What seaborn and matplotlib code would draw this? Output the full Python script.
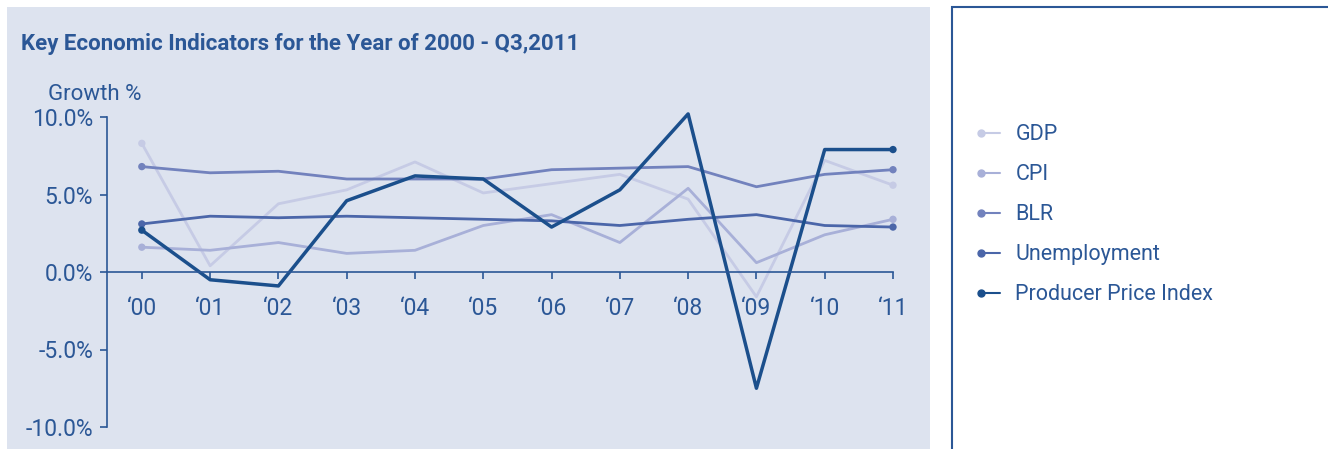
import numpy as np
import pandas as pd
import seaborn as sns
import matplotlib.pyplot as plt
from matplotlib.patches import Rectangle
from matplotlib.lines import Line2D
from matplotlib.legend_handler import HandlerLine2D

years = ["'00", "'01", "'02", "'03", "'04", "'05", "'06", "'07", "'08", "'09", "'10", "'11"]
tick_labels = ["\u201800", "\u201801", "\u201802", "\u201803", "\u201804", "\u201805",
               "\u201806", "\u201807", "\u201808", "\u201809", "\u201810", "\u201811"]

gdp = [8.3, 0.4, 4.4, 5.3, 7.1, 5.1, 5.7, 6.3, 4.7, -1.6, 7.2, 5.6]
cpi = [1.6, 1.4, 1.9, 1.2, 1.4, 3.0, 3.7, 1.9, 5.4, 0.6, 2.4, 3.4]
blr = [6.8, 6.4, 6.5, 6.0, 6.0, 6.0, 6.6, 6.7, 6.8, 5.5, 6.3, 6.6]
unemployment = [3.1, 3.6, 3.5, 3.6, 3.5, 3.4, 3.3, 3.0, 3.4, 3.7, 3.0, 2.9]
ppi = [2.7, -0.5, -0.9, 4.6, 6.2, 6.0, 2.9, 5.3, 10.2, -7.5, 7.9, 7.9]

series_names = ["GDP", "CPI", "BLR", "Unemployment", "Producer Price Index"]
colors = ["#c6cbe5", "#a8b0d8", "#7282bd", "#4b66a9", "#1b4f8c"]
text_col = "#2b5796"
panel_col = "#dde3ef"


class DotLeftHandler(HandlerLine2D):
    # legend entry: dot only at the left end of a short line
    def create_artists(self, legend, orig_handle, xdescent, ydescent,
                       width, height, fontsize, trans):
        artists = super().create_artists(legend, orig_handle, xdescent, ydescent,
                                         width, height, fontsize, trans)
        for a in artists:
            a.set_markevery([0])
        return artists


df = pd.DataFrame({
    "x": np.tile(np.arange(len(years)), 5),
    "value": gdp + cpi + blr + unemployment + ppi,
    "series": np.repeat(series_names, len(years)),
})

sns.set_style("white")
plt.rcParams["font.family"] = ["Roboto", "DejaVu Sans"]

fig = plt.figure(figsize=(13.28, 4.49), dpi=100)
fig.patch.set_facecolor("white")
W, H = 1328, 449

# background panels
fig.patches.append(Rectangle((7 / W, 0), (930 - 7) / W, (H - 7) / H,
                             transform=fig.transFigure, facecolor=panel_col,
                             edgecolor="none", zorder=-2))
fig.patches.append(Rectangle((952 / W, -0.1), 0.5, (H - 7) / H + 0.1,
                             transform=fig.transFigure, facecolor="white",
                             edgecolor=text_col, linewidth=1.5, zorder=-2))

ax = fig.add_axes([107 / W, (H - 427) / H, (893 - 107) / W, (427 - 117) / H])
ax.set_facecolor("none")

palette = dict(zip(series_names, colors))
sns.lineplot(data=df, x="x", y="value", hue="series", palette=palette,
             ax=ax, legend=False, linewidth=2)
for line, name in zip(ax.lines, series_names):
    line.set_clip_on(False)
    if name == "Producer Price Index":
        line.set_linewidth(2.5)

# end point dots
for name in series_names:
    sub = df[df["series"] == name]
    ends = sub.iloc[[0, -1]]
    ax.scatter(ends["x"], ends["value"], color=palette[name], s=28, zorder=5,
               edgecolor="none", clip_on=False)

ax.set_xlim(-0.51, 11)
ax.set_ylim(-10, 10)
ax.set_xlabel("")
ax.set_ylabel("")
ax.spines["top"].set_visible(False)
ax.spines["right"].set_visible(False)
ax.spines["bottom"].set_position(("data", 0))
for s in ["left", "bottom"]:
    ax.spines[s].set_color(text_col)
    ax.spines[s].set_linewidth(1.2)

ax.set_yticks([-10, -5, 0, 5, 10])
ax.set_yticklabels(["-10.0%", "-5.0%", "0.0%", "5.0%", "10.0%"])
ax.set_xticks(np.arange(len(years)))
ax.set_xticklabels(tick_labels)
ax.tick_params(axis="y", direction="out", length=5, width=1.2, color=text_col,
               labelcolor=text_col, labelsize=16.5, pad=5, left=True)
ax.tick_params(axis="x", direction="out", length=5, width=1.2, color=text_col,
               labelcolor=text_col, labelsize=16.5, pad=13, bottom=True)

fig.text(21 / W, (H - 44) / H, "Key Economic Indicators for the Year of 2000 - Q3,2011",
         color=text_col, fontsize=16, fontweight="bold", va="center", ha="left")
fig.text(48 / W, (H - 95) / H, "Growth %", color=text_col, fontsize=16,
         va="center", ha="left")

handles = [Line2D([0], [0], color=c, linewidth=1.5, marker="o", markersize=5)
           for c in colors]
leg = fig.legend(handles, series_names, loc="upper left",
                 bbox_to_anchor=(955 / W, (H - 105) / H), frameon=False,
                 numpoints=2, handlelength=1.5, handletextpad=0.4,
                 labelspacing=0.88, fontsize=15.5,
                 handler_map={Line2D: DotLeftHandler()})
for t in leg.get_texts():
    t.set_color(text_col)

fig.savefig("out.png", dpi=100, facecolor="white")
